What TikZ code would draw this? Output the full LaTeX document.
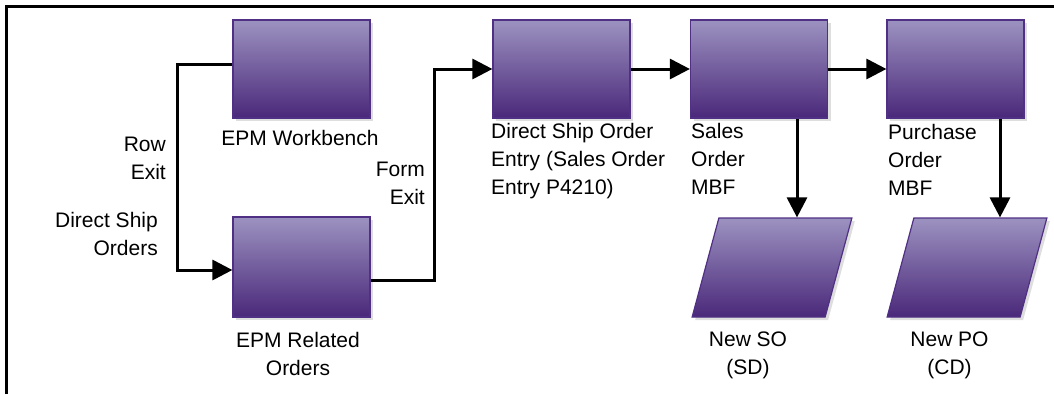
\documentclass[tikz,border=0pt]{standalone}
\usepackage{fontspec}
\setmainfont{Liberation Sans}
\usepackage{tikz}
\usetikzlibrary{arrows.meta,shadows}

\definecolor{boxtop}{RGB}{156,146,192}
\definecolor{boxbot}{RGB}{74,40,122}
\definecolor{boxline}{RGB}{80,48,132}
\definecolor{boxshade}{RGB}{222,222,222}

\tikzset{
  proc/.style={draw=boxline, line width=1.2pt, top color=boxtop,
    bottom color=boxbot, minimum width=137pt, minimum height=98pt,
    inner sep=0pt,
    drop shadow={shadow xshift=3pt, shadow yshift=-3pt, fill=boxshade,
      opacity=1}},
  data/.style={proc, minimum width=133pt, minimum height=99pt, xslant=0.27},
  flow/.style={line width=3pt, -{Triangle[length=20pt,width=20pt]}},
  lbl/.style={font=\fontsize{21}{28}\selectfont, inner sep=0pt}
}

\begin{document}
\begin{tikzpicture}[x=1pt,y=-1pt]

  \useasboundingbox (0,0) rectangle (1054,394);

  % frame
  \draw[line width=3pt] (6.5,394) -- (6.5,6.5) -- (1054,6.5);

  % process boxes
  \node[proc] (wb) at (301.5,69) {};
  \node[proc, minimum height=100pt] (rel) at (301.5,267) {};
  \node[proc] (ds) at (561.5,69) {};
  \node[proc] (sales) at (759,69) {};
  \node[proc] (po) at (955.5,69) {};

  % output documents
  \node[data] (newso) at (772,267.5) {};
  \node[data] (newpo) at (967,267.5) {};

  % labels
  \node[lbl, anchor=north] (wbl) at (300,130) {EPM Workbench};
  \node[lbl, anchor=north east, align=right] (rowexit) at (166,137) {Row\\Exit};
  \node[lbl, anchor=north east, align=right] (dsorders) at (158,212)
    {Direct Ship\\Orders};
  \node[lbl, anchor=north east, align=right] (formexit) at (425,162)
    {Form\\Exit};
  \node[lbl, anchor=north, align=center] (rell) at (298,332)
    {EPM Related\\Orders};
  \node[lbl, anchor=north west, align=left] (dsl) at (491,123)
    {Direct Ship Order\\Entry (Sales Order\\Entry P4210)};
  \node[lbl, anchor=north west, align=left] (salesl) at (691,123)
    {Sales\\Order\\MBF};
  \node[lbl, anchor=north west, align=left] (pol) at (888,124)
    {Purchase\\Order\\MBF};
  \node[lbl, anchor=north, align=center] (newsol) at (748,332)
    {New SO\\(SD)};
  \node[lbl, anchor=north, align=center] (newpol) at (949.5,332)
    {New PO\\(CD)};

  % flow
  \draw[flow] ([yshift=5pt]wb.west) -- ++(-55,0) |- ([yshift=-3pt]rel.west);
  \draw[flow] ([yshift=-13pt]rel.east) -- ++(64,0) |- (ds.west);
  \draw[flow] (ds.east) -- (sales.west);
  \draw[flow] (sales.east) -- (po.west);

  \coordinate (sotap) at ([xshift=38pt]sales.south);
  \coordinate (potap) at ([xshift=44.5pt]po.south);
  \draw[flow] (sotap) -- (sotap |- newso.north);
  \draw[flow] (potap) -- (potap |- newpo.north);

\end{tikzpicture}
\end{document}
